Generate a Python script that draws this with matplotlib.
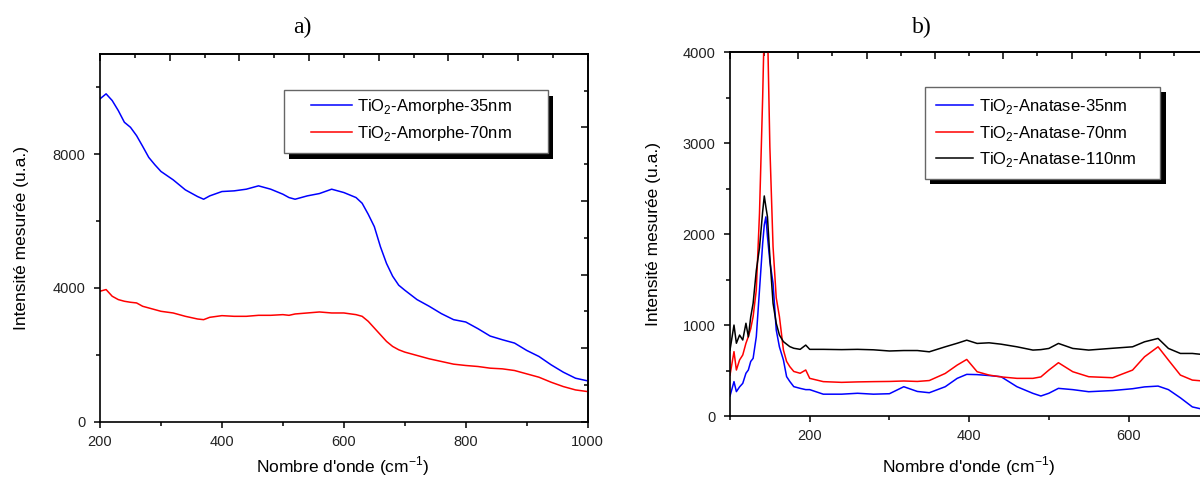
import numpy as np
import matplotlib
matplotlib.use("Agg")
import matplotlib.pyplot as plt
from matplotlib.patches import Rectangle
from matplotlib import transforms
from matplotlib.ticker import MultipleLocator, FixedLocator

plt.rcParams['font.family'] = ['Liberation Sans', 'DejaVu Sans']
plt.rcParams['mathtext.fontset'] = 'custom'
plt.rcParams['mathtext.rm'] = 'Liberation Sans'

# --- a) amorphous films ---
amo_x = [200, 210, 220, 230, 240, 250, 260, 270, 280, 290, 300, 320, 340, 360, 370, 380,
         400, 420, 440, 460, 480, 500, 510, 520, 540, 560, 580, 600, 620, 630, 640, 650,
         660, 670, 680, 690, 700, 720, 740, 760, 780, 800, 820, 840, 860, 880, 900, 920,
         940, 960, 980, 1000]
amo_35 = [9650, 9800, 9600, 9300, 8950, 8800, 8550, 8230, 7900, 7680, 7480, 7230, 6930, 6730, 6650, 6750,
          6880, 6900, 6950, 7050, 6950, 6800, 6700, 6650, 6750, 6820, 6950, 6850, 6700, 6530, 6200, 5830,
          5230, 4730, 4350, 4080, 3930, 3650, 3450, 3230, 3050, 2980, 2780, 2560, 2450, 2350, 2130, 1950,
          1700, 1480, 1300, 1220]
amo_70 = [3900, 3950, 3750, 3650, 3600, 3570, 3550, 3450, 3400, 3350, 3300, 3250, 3150, 3070, 3050, 3120,
          3170, 3150, 3150, 3180, 3180, 3200, 3180, 3220, 3250, 3280, 3250, 3250, 3200, 3150, 3000, 2800,
          2600, 2400, 2250, 2150, 2080, 1980, 1880, 1800, 1720, 1680, 1650, 1600, 1580, 1530, 1430, 1330,
          1180, 1050, 950, 900]
amo_labels = [r'TiO$_\mathregular{2}$-Amorphe-35nm', r'TiO$_\mathregular{2}$-Amorphe-70nm']

# --- b) anatase films ---
ana_x = [100, 105, 108, 112, 116, 120, 123, 126, 129, 133, 137, 141, 143, 145, 147, 150,
         154, 158, 162, 167, 171, 175, 180, 188, 195, 200, 217, 240, 260, 280, 300, 318,
         335, 350, 370, 385, 397, 410, 425, 440, 460, 480, 490, 500, 512, 530, 550, 580,
         605, 620, 637, 650, 665, 680, 700]
ana_35 = [220, 378, 268, 320, 359, 470, 506, 600, 634, 873, 1386, 1900, 2100, 2190, 1973, 1700,
          1460, 946, 760, 616, 433, 380, 323, 304, 290, 290, 240, 240, 250, 240, 245, 322,
          270, 256, 322, 414, 458, 455, 445, 432, 322, 249, 220, 250, 304, 290, 267, 280,
          300, 320, 329, 290, 200, 100, 60]
ana_70 = [450, 708, 506, 616, 671, 800, 873, 960, 1093, 1386, 2230, 3513, 4300, 4650, 4300, 2963,
          1863, 1300, 1093, 726, 600, 543, 490, 470, 506, 414, 378, 370, 375, 378, 380, 385,
          380, 390, 468, 560, 622, 487, 450, 430, 414, 414, 430, 505, 586, 487, 432, 421,
          505, 651, 761, 615, 450, 395, 380]
ana_110 = [726, 1000, 800, 890, 836, 1020, 870, 1090, 1240, 1600, 1850, 2250, 2420, 2300, 2190, 1750,
           1240, 1020, 890, 818, 790, 763, 745, 733, 780, 733, 733, 730, 733, 728, 715, 720,
           720, 706, 761, 800, 834, 798, 805, 790, 761, 725, 730, 743, 798, 743, 725, 745,
           761, 816, 853, 743, 688, 688, 670]
ana_labels = [r'TiO$_\mathregular{2}$-Anatase-35nm', r'TiO$_\mathregular{2}$-Anatase-70nm',
              r'TiO$_\mathregular{2}$-Anatase-110nm']

XLABEL = r"Nombre d'onde (cm$^\mathregular{-1}$)"
YLABEL = "Intensité mesurée (u.a.)"
TICK_COLOR = '#222222'


def style_axes(ax, top_ticks, right_ticks=None):
    for s in ax.spines.values():
        s.set_linewidth(1.2)
    ax.tick_params(which='both', direction='out', top=False, right=False,
                   width=1.1, labelsize=10.5, labelcolor=TICK_COLOR)
    ax.tick_params(which='major', length=4.5, pad=5)
    ax.tick_params(which='minor', length=3)
    ax.tick_params(axis='y', which='major', pad=6)
    # the top and right axes of the original use their own tick spacing
    sec = ax.secondary_xaxis('top')
    sec.set_xticks(top_ticks[::2])
    sec.xaxis.set_minor_locator(FixedLocator(top_ticks[1::2]))
    sec.tick_params(which='both', direction='in', labeltop=False, width=1.1)
    sec.tick_params(which='major', length=5)
    sec.tick_params(which='minor', length=3)
    sec.spines['top'].set_linewidth(1.2)
    if right_ticks is not None:
        secy = ax.secondary_yaxis('right')
        secy.set_yticks(right_ticks[::2])
        secy.yaxis.set_minor_locator(FixedLocator(right_ticks[1::2]))
        secy.tick_params(which='both', direction='in', labelright=False, width=1.1)
        secy.tick_params(which='major', length=5)
        secy.tick_params(which='minor', length=3)
        secy.spines['right'].set_linewidth(1.2)


def legend_box(ax, fig, x0, y0, x1, y1):
    shadow_tr = transforms.offset_copy(ax.transAxes, fig, x=5.5, y=-5.5, units='dots')
    ax.add_patch(Rectangle((x0, y0), x1 - x0, y1 - y0, transform=shadow_tr,
                           facecolor='black', edgecolor='none', zorder=4))
    ax.add_patch(Rectangle((x0, y0), x1 - x0, y1 - y0, transform=ax.transAxes,
                           facecolor='white', edgecolor='#666666', linewidth=1.0, zorder=4.5))


def main():
    fig = plt.figure(figsize=(12, 4.79), dpi=100)
    W, H = 1200, 479

    # panel a
    ax1 = fig.add_axes([100 / W, (H - 421.7) / H, 487.7 / W, 368 / H])
    ax1.plot(amo_x, amo_35, color='#0000ff', lw=1.1, label=amo_labels[0])
    ax1.plot(amo_x, amo_70, color='#ff0000', lw=1.1, label=amo_labels[1])
    ax1.set_xlim(200, 1000)
    ax1.set_ylim(0, 11000)
    ax1.xaxis.set_major_locator(MultipleLocator(200))
    ax1.xaxis.set_minor_locator(MultipleLocator(100))
    ax1.yaxis.set_major_locator(MultipleLocator(4000))
    ax1.yaxis.set_minor_locator(MultipleLocator(2000))
    style_axes(ax1, np.linspace(200, 1000, 15), np.linspace(0, 11000, 11))
    ax1.set_xlabel(XLABEL, fontsize=12.5)
    ax1.set_ylabel(YLABEL, fontsize=12.5)
    ax1.xaxis.set_label_coords(0.498, -0.090)
    ax1.yaxis.set_label_coords(-0.1465, 0.5)
    legend_box(ax1, fig, 0.377, 0.730, 0.918, 0.901)
    leg1 = ax1.legend(loc='center left', bbox_to_anchor=(0.432, 0.82), frameon=False,
                      borderpad=0, borderaxespad=0, fontsize=12, handlelength=2.45,
                      handletextpad=0.3, labelspacing=0.45)
    leg1.set_zorder(6)

    # panel b (cut off by the right edge of the image)
    ax2 = fig.add_axes([730 / W, (H - 416) / H, 558 / W, 363.7 / H])
    ax2.plot(ana_x, ana_35, color='#0000ff', lw=1.1, label=ana_labels[0])
    ax2.plot(ana_x, ana_70, color='#ff0000', lw=1.1, label=ana_labels[1])
    ax2.plot(ana_x, ana_110, color='black', lw=1.1, label=ana_labels[2])
    ax2.set_xlim(100, 800)
    ax2.set_ylim(0, 4000)
    ax2.set_xticks([200, 400, 600])
    ax2.xaxis.set_minor_locator(FixedLocator([100, 300, 500, 700]))
    ax2.yaxis.set_major_locator(MultipleLocator(1000))
    ax2.yaxis.set_minor_locator(MultipleLocator(500))
    style_axes(ax2, np.arange(100, 800, 600 / 14))
    ax2.set_xlabel(XLABEL, fontsize=12.5)
    ax2.set_ylabel(YLABEL, fontsize=12.5)
    ax2.xaxis.set_label_coords(0.428, -0.106)
    ax2.yaxis.set_label_coords(-0.123, 0.5)
    legend_box(ax2, fig, 0.349, 0.652, 0.771, 0.905)
    leg2 = ax2.legend(loc='center left', bbox_to_anchor=(0.370, 0.778), frameon=False,
                      borderpad=0, borderaxespad=0, fontsize=12, handlelength=2.2,
                      handletextpad=0.35, labelspacing=0.45)
    leg2.set_zorder(6)

    fig.text(302 / W, 1 - 27 / H, 'a)', family='Liberation Serif', fontsize=17,
             ha='center', va='center')
    fig.text(921.5 / W, 1 - 27 / H, 'b)', family='Liberation Serif', fontsize=17,
             ha='center', va='center')

    fig.savefig('out.png', dpi=100)


if __name__ == '__main__':
    main()
